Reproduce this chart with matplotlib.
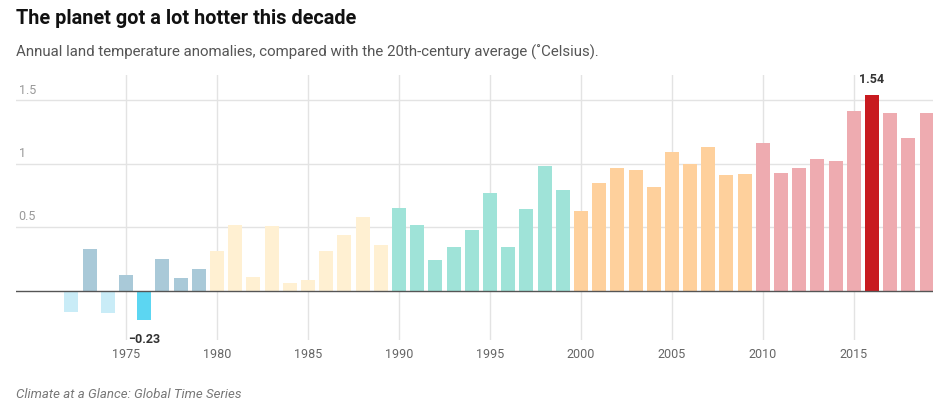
import matplotlib.pyplot as plt

plt.rcParams['font.family'] = ['Roboto', 'DejaVu Sans']

years = list(range(1972, 2020))
anomalies = [-0.17, 0.33, -0.18, 0.12, -0.23, 0.25, 0.10, 0.17,
             0.31, 0.52, 0.11, 0.51, 0.06, 0.08, 0.31, 0.44, 0.58, 0.36,
             0.65, 0.52, 0.24, 0.34, 0.48, 0.77, 0.34, 0.64, 0.98, 0.79,
             0.63, 0.85, 0.97, 0.95, 0.82, 1.09, 1.00, 1.13, 0.91, 0.92,
             1.16, 0.93, 0.97, 1.04, 1.02, 1.42, 1.54, 1.40, 1.20, 1.40]

y_ticks = [0.5, 1, 1.5]
y_tick_labels = ['0.5', '1', '1.5']
x_ticks = [1975, 1980, 1985, 1990, 1995, 2000, 2005, 2010, 2015]

decade_colors = {1970: '#a9c9d8', 1980: '#fff0d2', 1990: '#9fe3d8',
                 2000: '#fed09c', 2010: '#eeabb0'}

colors = []
for y, v in zip(years, anomalies):
    c = decade_colors[y // 10 * 10]
    if y // 10 == 197 and v < 0:
        c = '#c9ecf7'
    if y == 1976:
        c = '#5cd6f2'
    if y == 2016:
        c = '#c81a1f'
    colors.append(c)

fig = plt.figure(figsize=(9.37, 4.04), dpi=100)
ax = fig.add_axes([16/937, 1 - 340/404, 917/937, 265/404])

for yt in y_ticks:
    ax.axhline(yt, color='#e3e3e3', lw=1, zorder=0)
for xt in x_ticks:
    ax.axvline(xt, color='#e3e3e3', lw=1, zorder=0)

ax.bar(years, anomalies, width=0.77, color=colors, zorder=2)
ax.axhline(0, color='#555555', lw=1, zorder=3)

ax.set_xlim(1968.95, 2019.35)
ax.set_ylim(-0.39, 1.70)
for s in ax.spines.values():
    s.set_visible(False)
ax.set_xticks([])
ax.set_yticks([])

for yt, lab in zip(y_ticks, y_tick_labels):
    ax.text(1969.1, yt + 0.03, lab, ha='left', va='bottom', fontsize=9, color='#999999')

for xt in x_ticks:
    ax.text(xt, -0.505, str(xt), ha='center', va='center', fontsize=9,
            color='#666666', clip_on=False)

ax.text(2016, 1.665, '1.54', ha='center', va='center', fontsize=9,
        fontweight='bold', color='#333333')
ax.text(1976, -0.385, '\u22120.23', ha='center', va='center', fontsize=9,
        fontweight='bold', color='#333333', clip_on=False)

fig.text(16/937, 1 - 18/404, 'The planet got a lot hotter this decade',
         ha='left', va='center', fontsize=14.3, fontweight='bold', color='#111111')
fig.text(16/937, 1 - 52/404,
         'Annual land temperature anomalies, compared with the 20th-century average (\u02daCelsius).',
         ha='left', va='center', fontsize=10.8, color='#555555')
fig.text(16/937, 1 - 394/404, 'Climate at a Glance: Global Time Series',
         ha='left', va='center', fontsize=9.5, style='italic', color='#777777')

fig.savefig('out.png', dpi=100)
